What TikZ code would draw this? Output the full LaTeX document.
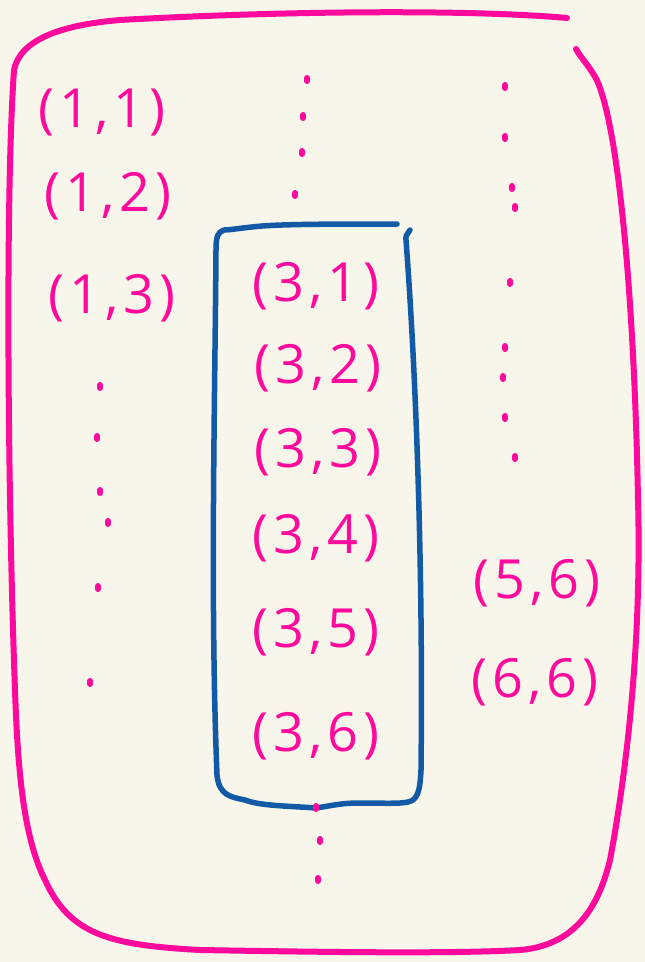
\documentclass[tikz,border=0pt]{standalone}
\usepackage{fontspec}
\setmainfont{Open Sans}
\definecolor{bg}{HTML}{F8F6EA}
\definecolor{pk}{HTML}{FF0A9C}
\definecolor{bl}{HTML}{135AA6}
\begin{document}
\begin{tikzpicture}[x=1pt,y=-1pt,
  pair/.style={text=pk,font=\fontsize{54}{54}\selectfont\addfontfeatures{LetterSpace=9}},
  pline/.style={draw=pk,line width=6pt,line cap=round,line join=round},
  bline/.style={draw=bl,line width=5.5pt,line cap=round,line join=round},
  dotm/.style={draw=pk,line width=6pt,line cap=round}]
\fill[bg] (0,0) rectangle (645,962);
\useasboundingbox (0,0) rectangle (645,962);
% outer pink shape
\draw[pline] (567,18) .. controls (480,10) and (300,10) .. (120,20)
  .. controls (60,25) and (20,40) .. (14,70)
  .. controls (5,200) and (8,500) .. (15,690)
  .. controls (18,780) and (25,840) .. (45,880)
  .. controls (70,935) and (110,945) .. (200,950)
  .. controls (320,952) and (450,954) .. (520,950)
  .. controls (580,945) and (600,900) .. (610,860)
  .. controls (625,780) and (642,650) .. (638,500)
  .. controls (635,330) and (622,150) .. (600,88)
  .. controls (595,72) and (582,60) .. (576,49);
% blue box
\draw[bline] (397,224) .. controls (340,224) and (290,224) .. (262,226)
  .. controls (240,228) and (230,230) .. (224,230)
  .. controls (218,232) and (216,236) .. (216,250)
  .. controls (215,400) and (210,600) .. (217,775)
  .. controls (219,795) and (230,797) .. (245,800)
  .. controls (260,806) and (290,806) .. (316,808)
  .. controls (330,806) and (340,803) .. (360,803)
  .. controls (380,803) and (400,804) .. (408,802)
  .. controls (418,800) and (420,790) .. (421,770)
  .. controls (423,600) and (418,400) .. (406,240)
  .. controls (405,236) and (408,233) .. (410,230);
% pairs
\node[pair] (p11) at (102,112) {(1,1)};
\node[pair] (p12) at (108,196) {(1,2)};
\node[pair] (p13) at (112,298) {(1,3)};
\node[pair] (p31) at (316,286) {(3,1)};
\node[pair] (p32) at (318,368) {(3,2)};
\node[pair] (p33) at (318,452) {(3,3)};
\node[pair] (p34) at (316,538) {(3,4)};
\node[pair] (p35) at (316,632) {(3,5)};
\node[pair] (p36) at (316,736) {(3,6)};
\node[pair] (p56) at (537,583) {(5,6)};
\node[pair] (p66) at (535,682) {(6,6)};
% dots
\foreach \x/\y in {100/385,97/436,100/490,108/521,98/586,90/681,
  307/78,303/115,302/151,295/193,
  505/85,505/136,512/186,515/206,510/281,505/346,503/376,505/416,515/456,
  316/806,320/839,318/878}
  \draw[dotm] (\x,\y) -- ++(0,3);
\end{tikzpicture}
\end{document}
